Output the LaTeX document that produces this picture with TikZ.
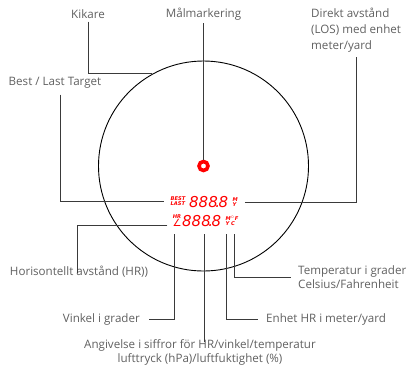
\documentclass[tikz,border=0pt]{standalone}
\usepackage{fontspec}
\setmainfont{Open Sans}
\newfontfamily\lcdfont{DejaVu Sans}
\usepackage{tikz}
\usetikzlibrary{positioning, calc}
\definecolor{rfred}{HTML}{FF0000}
\definecolor{rfgray}{HTML}{606060}
\definecolor{rfline}{HTML}{3A3A3A}
\newcommand{\lcddigits}{888\kern-2.5pt.\kern-1.5pt8}

\begin{document}
\begin{tikzpicture}[
  x=1pt, y=-1pt,
  every node/.style={font=\fontsize{11.6}{14}\selectfont, text=rfgray, inner sep=0pt},
  callout/.style={draw=rfline, line width=0.9pt},
  lcd/.style={text=rfred, font=\lcdfont\fontsize{15}{15}\selectfont\itshape, inner sep=0pt},
  lcdtag/.style={text=rfred, font=\lcdfont\fontsize{5.2}{5.4}\selectfont\bfseries\itshape,
                 align=left, inner sep=0pt}
]
\useasboundingbox (0,0) rectangle (409,365);

%% ── SIGHT ────────────────────────────────────────────────────
\node[circle, draw=black, line width=0.9pt, minimum size=210pt] (sight) at (203.5,166) {};
\node[circle, draw=rfred, line width=3.6pt, minimum size=9pt] (ring) at (203.5,166) {};

%% ── DISPLAY ──────────────────────────────────────────────────
\node[lcdtag] (bestlast) at (178,201) {BEST\\LAST};
\node[lcd, anchor=west] (digitsA) at (189,202) {\lcddigits};
\node[lcdtag, anchor=west] (unitA) at ([xshift=4pt]digitsA.east) {M\\Y};

\node[lcdtag] (hrtag) at (177,216.5) {HR};
\node[text=rfred, font=\lcdfont\fontsize{10}{10}\selectfont] (angle) at (177,223) {∠};
\node[lcd, anchor=west] (digitsB) at (182,221) {\lcddigits};
\node[lcdtag, anchor=west] (unitB) at ([xshift=4pt]digitsB.east) {M$^\circ$F\\Y\,\,C};

\coordinate (tickangle) at (174,234);
\coordinate (tickdigit) at (204,234);
\coordinate (tickunit)  at (226,234);
\coordinate (ticktemp)  at (234,234);

%% ── LABELS ───────────────────────────────────────────────────
\node (kikare) at (88,14) {Kikare};
\node (malm) at (203.5,14) {Målmarkering};
\node (best) at (55,83) {Best / Last Target};
\node[anchor=north west, align=left, font=\fontsize{11.6}{16}\selectfont] (los) at (311,8)
  {Direkt avstånd\\(LOS) med enhet\\meter/yard};
\node (horis) at (79,272) {Horisontellt avstånd (HR))};
\node[anchor=east] (vinkel) at (140,319) {Vinkel i grader};
\node[align=center] (angiv) at (200,352)
  {Angivelse i siffror för HR/vinkel/temperatur\\lufttryck (hPa)/luftfuktighet (\%)};
\node[anchor=west] (enhet) at (266,319) {Enhet HR i meter/yard};
\node[anchor=west, align=left] (temp) at (298,277)
  {Temperatur i grader\\Celsius/Fahrenheit};

%% ── CALLOUTS ─────────────────────────────────────────────────
\draw[callout] ([yshift=-3pt]kikare.south) |- (sight.119);
\draw[callout] ([yshift=-3pt]malm.south) -- (ring.north);
\draw[callout] ([xshift=5pt, yshift=-6pt]best.south) |- ([xshift=-6pt]bestlast.west);
\draw[callout] ([xshift=7pt]unitA.east) -| ([yshift=-4pt]los.south);

\draw[callout] ([xshift=-5pt, yshift=-2pt]angle.west) -| ([xshift=-2pt, yshift=-7pt]horis.north);
\draw[callout] (tickangle) |- ([xshift=9pt]vinkel.east);
\draw[callout] (tickdigit) -- ([yshift=-3pt]tickdigit |- angiv.north);
\draw[callout] (tickunit) |- ([xshift=-8pt]enhet.west);
\draw[callout] (ticktemp) |- ([xshift=-7pt]temp.west);

\end{tikzpicture}
\end{document}
